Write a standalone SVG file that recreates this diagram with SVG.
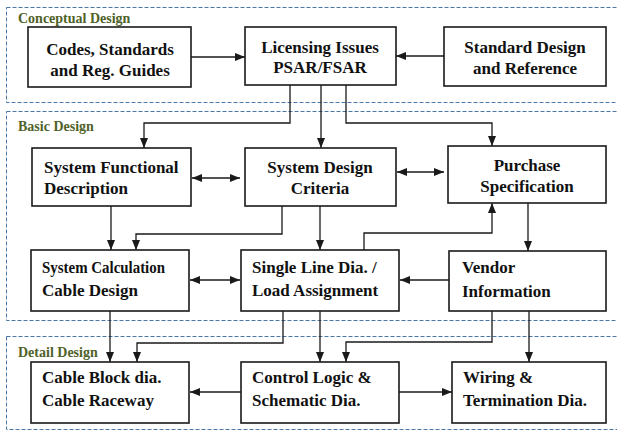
<svg xmlns="http://www.w3.org/2000/svg" width="617" height="432" viewBox="0 0 617 432">
  <style>
    .bg { fill: #ffffff; }
    .zone { fill: none; stroke: #4a76a8; stroke-width: 1; stroke-dasharray: 4 2; }
    .zone-label { font-family: "Liberation Serif", "Times New Roman", serif; font-weight: bold; font-size: 14px; fill: #4f6228; }
    .box { fill: #ffffff; stroke: #1a1a1a; stroke-width: 1.6; }
    .t { font-family: "Liberation Serif", "Times New Roman", serif; font-weight: bold; font-size: 17px; fill: #111111; }
    .c { text-anchor: middle; }
    .link { fill: none; stroke: #1a1a1a; stroke-width: 1.3; }
  </style>
  <defs>
    <marker id="head" markerUnits="userSpaceOnUse" markerWidth="10" markerHeight="10" viewBox="0 0 10 10" refX="10" refY="5" orient="auto-start-reverse">
      <path d="M0,1 L10,5 L0,9 Z" fill="#1a1a1a"/>
    </marker>
  </defs>

  <rect class="bg" x="0" y="0" width="617" height="432"/>

  <!-- design phase zones -->
  <g id="zone-conceptual">
    <rect class="zone" x="6.5" y="7.5" width="620" height="95"/>
    <text class="zone-label" x="18" y="23">Conceptual Design</text>
  </g>
  <g id="zone-basic">
    <rect class="zone" x="6.5" y="111.5" width="620" height="209"/>
    <text class="zone-label" x="18" y="131">Basic Design</text>
  </g>
  <g id="zone-detail">
    <rect class="zone" x="6.5" y="336.5" width="620" height="93"/>
    <text class="zone-label" x="18" y="357">Detail Design</text>
  </g>

  <!-- connectors -->
  <g id="connectors">
    <line class="link" x1="191" y1="57" x2="245" y2="57" marker-end="url(#head)"/>
    <line class="link" x1="444" y1="56" x2="396" y2="56" marker-end="url(#head)"/>

    <polyline class="link" points="290,85 290,123 144,123 144,148" marker-end="url(#head)"/>
    <line class="link" x1="321" y1="85" x2="321" y2="148" marker-end="url(#head)"/>
    <polyline class="link" points="346,85 346,123 492,123 492,146" marker-end="url(#head)"/>

    <line class="link" x1="192" y1="178" x2="240" y2="178" marker-start="url(#head)" marker-end="url(#head)"/>
    <line class="link" x1="397" y1="172" x2="444" y2="172" marker-start="url(#head)" marker-end="url(#head)"/>

    <line class="link" x1="111" y1="206" x2="111" y2="250" marker-end="url(#head)"/>
    <polyline class="link" points="282,206 282,234 136,234 136,250" marker-end="url(#head)"/>
    <line class="link" x1="320" y1="206" x2="320" y2="250" marker-end="url(#head)"/>
    <polyline class="link" points="364,250 364,233 492,233 492,203" marker-end="url(#head)"/>
    <line class="link" x1="528" y1="203" x2="528" y2="251" marker-end="url(#head)"/>

    <line class="link" x1="190" y1="280" x2="240" y2="280" marker-start="url(#head)" marker-end="url(#head)"/>
    <line class="link" x1="449" y1="280" x2="400" y2="280" marker-end="url(#head)"/>

    <line class="link" x1="110" y1="311" x2="110" y2="362" marker-end="url(#head)"/>
    <polyline class="link" points="283,311 283,343 137,343 137,362" marker-end="url(#head)"/>
    <line class="link" x1="320" y1="311" x2="320" y2="362" marker-end="url(#head)"/>
    <polyline class="link" points="492,311 492,342 346,342 346,362" marker-end="url(#head)"/>
    <line class="link" x1="529" y1="311" x2="529" y2="362" marker-end="url(#head)"/>

    <line class="link" x1="241" y1="392" x2="190" y2="392" marker-end="url(#head)"/>
    <line class="link" x1="399" y1="392" x2="452" y2="392" marker-end="url(#head)"/>
  </g>

  <!-- conceptual design nodes -->
  <g id="codes">
    <rect class="box" x="28" y="27" width="163" height="60"/>
    <text class="t c" x="110" y="55">Codes, Standards</text>
    <text class="t c" x="110" y="76">and Reg. Guides</text>
  </g>
  <g id="licensing">
    <rect class="box" x="245" y="27" width="151" height="58"/>
    <text class="t c" x="320" y="53">Licensing Issues</text>
    <text class="t c" x="320" y="73">PSAR/FSAR</text>
  </g>
  <g id="standard-design">
    <rect class="box" x="444" y="27" width="162" height="59"/>
    <text class="t c" x="525" y="53">Standard Design</text>
    <text class="t c" x="525" y="74">and Reference</text>
  </g>

  <!-- basic design nodes -->
  <g id="functional-description">
    <rect class="box" x="32" y="148" width="159" height="58"/>
    <text class="t" x="44" y="173">System Functional</text>
    <text class="t" x="44" y="194">Description</text>
  </g>
  <g id="design-criteria">
    <rect class="box" x="245" y="148" width="151" height="58"/>
    <text class="t c" x="320" y="173">System Design</text>
    <text class="t c" x="320" y="194">Criteria</text>
  </g>
  <g id="purchase-spec">
    <rect class="box" x="448" y="146" width="158" height="57"/>
    <text class="t c" x="527" y="171">Purchase</text>
    <text class="t c" x="527" y="192">Specification</text>
  </g>
  <g id="system-calculation">
    <rect class="box" x="31" y="250" width="158" height="61"/>
    <text class="t" x="42" y="273" textLength="123" lengthAdjust="spacingAndGlyphs">System Calculation</text>
    <text class="t" x="42" y="296">Cable  Design</text>
  </g>
  <g id="single-line">
    <rect class="box" x="241" y="250" width="158" height="61"/>
    <text class="t" x="252" y="273">Single Line Dia. /</text>
    <text class="t" x="252" y="296">Load Assignment</text>
  </g>
  <g id="vendor-info">
    <rect class="box" x="449" y="251" width="157" height="60"/>
    <text class="t" x="462" y="273">Vendor</text>
    <text class="t" x="462" y="297">Information</text>
  </g>

  <!-- detail design nodes -->
  <g id="cable-block">
    <rect class="box" x="31" y="362" width="158" height="61"/>
    <text class="t" x="42" y="383">Cable Block dia.</text>
    <text class="t" x="42" y="406">Cable Raceway</text>
  </g>
  <g id="control-logic">
    <rect class="box" x="241" y="362" width="158" height="61"/>
    <text class="t" x="252" y="383">Control Logic &amp;</text>
    <text class="t" x="252" y="406">Schematic Dia.</text>
  </g>
  <g id="wiring">
    <rect class="box" x="452" y="362" width="154" height="61"/>
    <text class="t" x="463" y="383">Wiring &amp;</text>
    <text class="t" x="463" y="406">Termination Dia.</text>
  </g>
</svg>
